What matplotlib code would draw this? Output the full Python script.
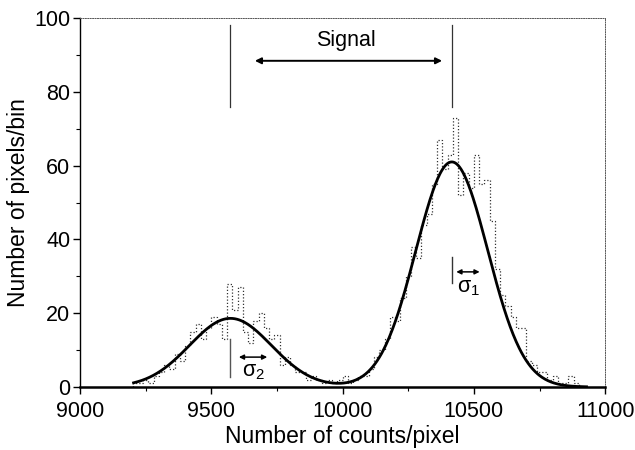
import numpy as np
import matplotlib.pyplot as plt

plt.rcParams['font.family'] = ['Liberation Sans', 'DejaVu Sans']
plt.rcParams['mathtext.fontset'] = 'custom'
plt.rcParams['mathtext.rm'] = 'Liberation Sans'
plt.rcParams['mathtext.it'] = 'Liberation Sans'

# histogram: 20-count bins starting at 9200
bin_start = 9200
bin_width = 20
counts = [1, 1, 2, 1, 3, 4, 6, 5, 9, 7,
          11, 15, 17, 13, 16, 19, 17, 13, 28, 21,
          27, 15, 12, 18, 20, 16, 13, 14, 6, 8,
          6, 4, 4, 2, 3, 2, 1, 2, 1, 2,
          3, 1, 2, 3, 3, 5, 8, 10, 13, 19,
          18, 24, 30, 38, 35, 44, 47, 55, 67, 59,
          63, 73, 52, 58, 54, 63, 55, 56, 45, 32,
          25, 22, 19, 16, 16, 7, 6, 4, 4, 2,
          3, 1, 1, 3, 1]

# two-gaussian fit (amplitude, centre, sigma)
fit_amp = [61.0, 18.6]
fit_mu = [10416, 9573]
fit_sigma = [137, 156]
fit_range = (9204, 10929)

edges = bin_start + bin_width * np.arange(len(counts) + 1)
xf = np.linspace(fit_range[0], fit_range[1], 600)
yf = sum(a * np.exp(-(xf - m) ** 2 / (2 * s ** 2))
         for a, m, s in zip(fit_amp, fit_mu, fit_sigma))

fig = plt.figure(figsize=(6.35, 4.5), dpi=100)
ax = fig.add_axes([0.126, 0.14, 0.827, 0.82])

ax.stairs(counts, edges, color='#333333', lw=0.9, linestyle=(0, (1, 1.6)))
ax.plot(xf, yf, color='black', lw=2.0)

# signal markers at the two peak centres
for m in fit_mu:
    ax.plot([m, m], [75.8, 98.2], color='#333333', lw=0.9)
ax.annotate('', xy=(9666, 88.4), xytext=(10379, 88.4),
            arrowprops=dict(arrowstyle='<|-|>', color='black', lw=1.4,
                            mutation_scale=9, shrinkA=0, shrinkB=0))
ax.text(10012, 93.9, 'Signal', ha='center', va='center', fontsize=15.5)

# sigma markers
ax.plot([fit_mu[0], fit_mu[0]], [28.1, 35.3], color='#333333', lw=1.0)
ax.annotate('', xy=(10433, 31.2), xytext=(10522, 31.2),
            arrowprops=dict(arrowstyle='<|-|>', color='black', lw=1.1,
                            mutation_scale=7, shrinkA=0, shrinkB=0))
ax.text(10478, 27.0, r'$\sigma_1$', ha='center', va='center', fontsize=15.5)

ax.plot([fit_mu[1], fit_mu[1]], [2.7, 13.1], color='#555555', lw=1.0)
ax.annotate('', xy=(9605, 8.1), xytext=(9713, 8.1),
            arrowprops=dict(arrowstyle='<|-|>', color='black', lw=1.1,
                            mutation_scale=7, shrinkA=0, shrinkB=0))
ax.text(9660, 4.3, r'$\sigma_2$', ha='center', va='center', fontsize=15.5)

ax.set_xlim(9000, 11000)
ax.set_ylim(0, 100)
ax.set_xticks(np.arange(9000, 11001, 500))
ax.set_xticks(np.arange(9000, 11001, 250), minor=True)
ax.set_yticks(np.arange(0, 101, 20))
ax.set_yticks(np.arange(0, 101, 10), minor=True)
ax.tick_params(which='major', direction='out', length=5, width=1, labelsize=15.5)
ax.tick_params(axis='x', which='major', pad=5)
ax.tick_params(axis='y', which='major', pad=2)
ax.tick_params(which='minor', direction='out', length=3, width=0.8)

for side in ['top', 'right']:
    ax.spines[side].set_linestyle((0, (1, 1.5)))
    ax.spines[side].set_linewidth(0.7)
    ax.spines[side].set_color('#555555')
ax.spines['bottom'].set_linewidth(1.8)
ax.spines['left'].set_linewidth(1.0)

ax.set_xlabel('Number of counts/pixel', fontsize=16.5, labelpad=2)
ax.set_ylabel('Number of pixels/bin', fontsize=16.5, labelpad=3)

fig.savefig('out.png', dpi=100)
